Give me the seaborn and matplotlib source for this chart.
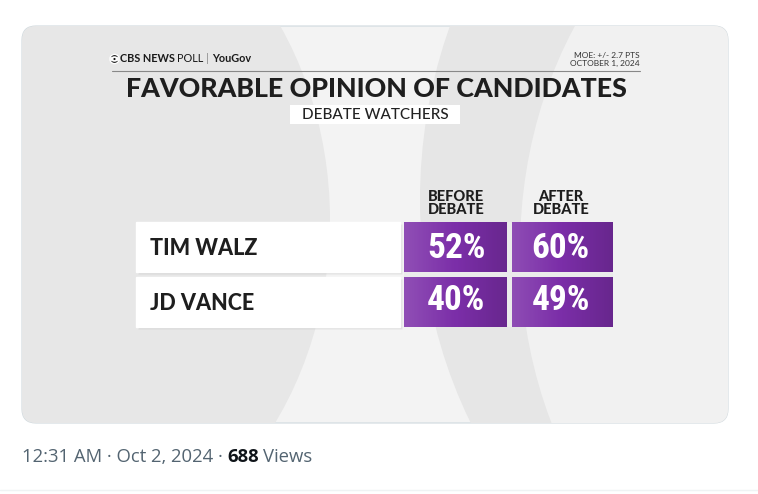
import matplotlib
matplotlib.use("Agg")
import matplotlib.pyplot as plt
import seaborn as sns
import pandas as pd
import numpy as np
from matplotlib.patches import FancyBboxPatch, Rectangle, Ellipse, Circle
from matplotlib.colors import ListedColormap
from matplotlib import font_manager

names = ["TIM WALZ", "JD VANCE"]
before = [52, 40]
after = [60, 49]
columns = ["BEFORE\nDEBATE", "AFTER\nDEBATE"]
title = "FAVORABLE OPINION OF CANDIDATES"
subtitle = "DEBATE WATCHERS"
moe = "MOE: +/- 2.7 PTS"
poll_date = "OCTOBER 1, 2024"
tweet_time = "12:31 AM · Oct 2, 2024 · "
views = "688"

sns.set_theme(style="white")

installed = {f.name for f in font_manager.fontManager.ttflist}
def pick(cands):
    for c in cands:
        if c in installed:
            return c
    return "DejaVu Sans"

head_font = pick(["Lato", "Open Sans", "DejaVu Sans"])
num_font = pick(["Roboto Condensed", "Liberation Sans Narrow", "DejaVu Sans Condensed", "DejaVu Sans"])
ui_font = pick(["Open Sans", "Noto Sans", "DejaVu Sans"])
num_size = 25.5 if num_font in ("Roboto Condensed", "Liberation Sans Narrow") else 19

W, H = 758, 494
fig = plt.figure(figsize=(W / 100, H / 100), dpi=100)
fig.patch.set_facecolor("white")
bg = fig.add_axes([0, 0, 1, 1])
bg.set_xlim(0, W)
bg.set_ylim(H, 0)
bg.axis("off")

# tweet card with the grey swoosh background
card = FancyBboxPatch((22, 26), 706, 397, boxstyle="round,pad=0,rounding_size=14",
                      fc="#f3f3f3", ec="#cfd9de", lw=0.8, zorder=1)
bg.add_patch(card)
for cx, cy, w, h, col in [(30, 220, 600, 704, "#e7e7e7"),
                          (770, 200, 700, 860, "#e6e6e6"),
                          (840, 250, 640, 800, "#f1f1f1")]:
    e = Ellipse((cx, cy), w, h, fc=col, ec="none", zorder=2)
    bg.add_patch(e)
    e.set_clip_path(card)

# header
bg.add_patch(Circle((114.5, 59), 4.6, fc="#111", zorder=5))
bg.add_patch(Ellipse((114.5, 59), 7.6, 3.8, fc="white", zorder=6))
bg.add_patch(Circle((114.5, 59), 1.8, fc="#111", zorder=7))
r = fig.canvas.get_renderer()
x = 120
for txt, wt, col, gap in [("CBS NEWS", "bold", "#1a1a1a", 2), ("POLL", "normal", "#1a1a1a", 3),
                          ("|", "normal", "#888", 3), ("YouGov", "bold", "#1a1a1a", 0)]:
    t = bg.text(x, 59, txt, fontsize=7.8, fontweight=wt, family=head_font,
                color=col, va="center", zorder=8)
    x = t.get_window_extent(r).x1 + gap
bg.text(640, 55, moe, fontsize=6, family=head_font, color="#333", ha="right", va="center", zorder=8)
bg.text(640, 63.5, poll_date, fontsize=6, family=head_font, color="#333", ha="right", va="center", zorder=8)
bg.plot([112, 640], [71, 71], color="#888", lw=0.8, zorder=8)
bg.text(376, 89, title, fontsize=19.3, fontweight="black", family=head_font,
        color="#1e1e1e", ha="center", va="center", zorder=8)
bg.add_patch(Rectangle((290, 105), 170, 19, fc="white", ec="none", zorder=8))
bg.text(375, 114.5, subtitle, fontsize=11, fontweight="medium", family=head_font, color="#222",
        ha="center", va="center", zorder=9)

# name boxes
row_top, row_h, row_gap = 222, 50, 5
for i, name in enumerate(names):
    y0 = row_top + i * (row_h + row_gap)
    bg.add_patch(Rectangle((138, y0 + 2), 264, row_h, fc="black", alpha=0.07, zorder=3))
    bg.add_patch(Rectangle((136, y0), 264, row_h, fc="white", zorder=4))
    bg.text(150, y0 + row_h / 2 + 1, name, fontsize=15.5, fontweight="black", family=head_font,
            color="#1e1e1e", va="center", zorder=5)

# purple value cells
table = pd.DataFrame({columns[0]: before, columns[1]: after}, index=names)
labels = table.map(lambda v: f"{v}%").values
hm = fig.add_axes([404 / W, 1 - 327 / H, 209 / W, 105 / H])
sns.heatmap(table, ax=hm, cmap=ListedColormap(["#7b2ea8"]), cbar=False,
            annot=labels, fmt="", linewidths=0, yticklabels=False,
            annot_kws=dict(color="white", fontsize=num_size, fontweight="bold",
                           family=num_font, fontstretch="condensed"))
# light-to-dark sheen across each cell
ncol, nrow = table.shape[1], table.shape[0]
frac = np.tile(np.linspace(0, 1, 200), ncol)
sheen = np.zeros((1, frac.size, 4))
sheen[0, :, :3] = np.where(frac[:, None] < 0.5, 1.0, 0.0)
sheen[0, :, 3] = np.abs(frac - 0.5) * 0.32
hm.imshow(sheen, extent=(0, ncol, nrow, 0), aspect="auto", zorder=1.5, interpolation="bilinear")
for v in range(1, ncol):
    hm.axvline(v, color="#ebebeb", lw=3.6, zorder=2)
for v in range(1, nrow):
    hm.axhline(v, color="#ebebeb", lw=3.6, zorder=2)
hm.set_xlim(0, ncol)
hm.set_ylim(nrow, 0)
hm.xaxis.tick_top()
hm.tick_params(axis="x", length=0, pad=3.5)
hm.set_xticklabels(columns, rotation=0, fontsize=10.5, fontweight="black", family=head_font,
                   color="#1e1e1e", linespacing=0.95)
hm.set_xlabel("")
hm.set_ylabel("")

# tweet footer
t1 = bg.text(22, 457, tweet_time, fontsize=13.3, color="#536471", va="center", family=ui_font)
x2 = t1.get_window_extent(r).x1
t2 = bg.text(x2, 457, views, fontsize=13.3, fontweight="bold", color="#0f1419", va="center", family=ui_font)
x3 = t2.get_window_extent(r).x1 + 4
bg.text(x3, 457, "Views", fontsize=13.3, color="#536471", va="center", family=ui_font)
bg.plot([0, W], [490, 490], color="#eff3f4", lw=1)

fig.savefig("out.png", dpi=100)
